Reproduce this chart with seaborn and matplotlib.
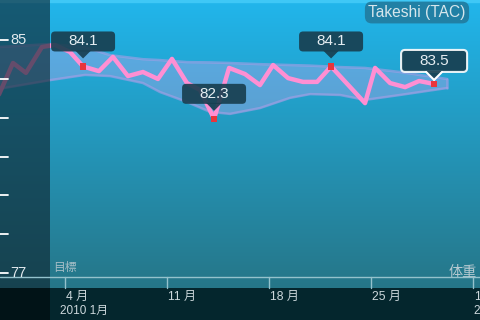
import numpy as np
import pandas as pd
import seaborn as sns
import matplotlib
matplotlib.use("Agg")
import matplotlib.pyplot as plt
from matplotlib.patches import FancyBboxPatch, Polygon, Rectangle
from matplotlib.transforms import IdentityTransform, blended_transform_factory

# ---------------- data ----------------
days = [-0.67, 0.43, 1.32, 2.42, 3.31, 4.34, 5.24, 6.33, 7.29, 8.32, 9.35, 10.38,
        11.34, 12.37, 13.27, 14.23, 15.26, 16.35, 17.38, 18.28, 19.31, 20.33,
        21.30, 22.26, 24.59, 25.28, 26.31, 27.34, 28.30, 29.33]
weights = [82.98, 84.22, 83.88, 84.77, 84.84, 84.60, 84.10, 83.94, 84.43, 83.77,
           83.91, 83.67, 84.36, 83.53, 83.29, 82.30, 84.05, 83.84, 83.46, 84.15,
           83.70, 83.57, 83.57, 84.10, 82.84, 84.05, 83.53, 83.39, 83.60, 83.50]
highlight_idx = [6, 15, 23, 29]

band_days = [-0.9, 2.97, 5.37, 7.09, 9.35, 10.52, 12.37, 13.95, 15.32, 17.38,
             19.44, 20.82, 22.88, 24.59, 26.99, 30.22]
band_upper = [84.76, 84.87, 84.77, 84.49, 84.35, 84.32, 84.25, 84.24, 84.22, 84.18,
              84.15, 84.13, 84.08, 84.05, 83.91, 83.67]
band_lower = [83.30, 83.63, 83.81, 83.77, 83.53, 83.22, 82.88, 82.54, 82.47, 82.67,
              83.02, 83.15, 83.12, 82.95, 83.12, 83.36]

xtick_days = [4, 11, 18, 25, 32]
xtick_labels = ["4 月", "11 月", "18 月", "25 月", "1"]
ytick_values = list(np.linspace(77, 85, 7))
ytick_labels = {85: "85", 77: "77"}

title = "Takeshi (TAC)"
goal_label = "目標"
series_label = "体重"
year_month = "2010 1月"
next_year_month = "2"

df = pd.DataFrame({"day": days, "weight": weights})
hl = df.iloc[highlight_idx]

# ---------------- figure ----------------
sns.set_theme(style="white")
plt.rcParams["font.family"] = ["Liberation Sans", "Noto Sans CJK JP", "DejaVu Sans"]

W, H = 480, 320
fig = plt.figure(figsize=(4.8, 3.2), dpi=100)
ax = fig.add_axes([0, 0, 1, 1])
ax.set_axis_off()
XL = (-0.461, 32.48)
YL = (75.385, 86.385)

# background gradient (plot area)
n = 256
top = np.array([33, 182, 236]) / 255
bot = np.array([38, 118, 136]) / 255
t = np.linspace(0, 1, n)[:, None]
grad = (top[None, :] * (1 - t) + bot[None, :] * t)[:, None, :]
ax.imshow(grad, extent=[0, 1, 32 / H, 1], transform=ax.transAxes,
          aspect="auto", zorder=0, interpolation="bilinear")
ax.add_patch(Rectangle((0, 1 - 2 / H), 1, 2 / H, transform=ax.transAxes,
                       color="#3fc8f6", zorder=1))

# band
ax.fill_between(band_days, band_lower, band_upper, color="#c9a9ee", alpha=0.34,
                lw=0, zorder=2)
ax.plot(band_days, band_upper, color="#a99ee6", alpha=0.6, lw=1.8, zorder=2.5)
ax.plot(band_days, band_lower, color="#a99ee6", alpha=0.6, lw=1.8, zorder=2.5)
ax.plot([band_days[-1]] * 2, [band_lower[-1], band_upper[-1]], color="#a99ee6",
        alpha=0.6, lw=1.8, zorder=2.5)

# weight line
sns.lineplot(data=df, x="day", y="weight", color="#ff8fd3", lw=3.2, ax=ax,
             zorder=3, legend=False)
sns.scatterplot(data=hl, x="day", y="weight", color="#e8353c", marker="s", s=22,
                edgecolor="none", ax=ax, zorder=3.5, legend=False)

# left dark panel
ax.add_patch(Rectangle((0, 32 / H), 50 / W, 1 - 32 / H, transform=ax.transAxes,
                       color=(15 / 255, 38 / 255, 48 / 255), alpha=0.64, lw=0, zorder=4))
# bottom band
ax.add_patch(Rectangle((0, 0), 1, 32 / H, transform=ax.transAxes,
                       color="#04262d", lw=0, zorder=5))
ax.add_patch(Rectangle((0, 0), 50 / W, 32 / H, transform=ax.transAxes,
                       color="#011317", lw=0, zorder=5.1))

# x axis line + ticks
ax.plot([0, 1], [1 - 277 / H] * 2, transform=ax.transAxes, color="#94c2cc",
        lw=1, zorder=6)
bx = blended_transform_factory(ax.transData, ax.transAxes)
for d, lab in zip(xtick_days, xtick_labels):
    ax.plot([d, d], [1 - 277 / H, 1 - 288 / H], transform=bx, color="#94c2cc",
            lw=1, zorder=6)
    ax.text(d + 0.05, 1 - 297 / H, lab, transform=bx, ha="left", va="center",
            fontsize=8.7, color="#cdd8dc", zorder=7)
ax.text(60 / W, 1 - 311 / H, year_month, transform=ax.transAxes, ha="left",
        va="center", fontsize=8.5, color="#cdd8dc", zorder=7)
ax.text(473 / W, 1 - 311 / H, next_year_month, transform=ax.transAxes, ha="left",
        va="center", fontsize=8.5, color="#cdd8dc", zorder=7)

# y ticks
by = blended_transform_factory(ax.transAxes, ax.transData)
for v in ytick_values:
    ax.plot([0, 8 / W], [v, v], transform=by, color="white", lw=1.3, zorder=6)
    key = int(round(v))
    if abs(v - key) < 1e-6 and key in ytick_labels:
        ax.text(10 / W, v, ytick_labels[key], transform=by, ha="left", va="center",
                fontsize=10.5, color="#e2eaee", zorder=7)

ax.text(53 / W, 1 - 268 / H, goal_label, transform=ax.transAxes, ha="left",
        va="center", fontsize=8.5, color="#a3bdc6", zorder=7)
ax.text(477 / W, 1 - 272 / H, series_label, transform=ax.transAxes, ha="right",
        va="center", fontsize=10.2, color="#b7cad1", zorder=7)

ax.text(417 / W, 1 - 12.5 / H, title, transform=ax.transAxes, ha="center",
        va="center", fontsize=11.2, color="#d6e6ec", zorder=7,
        bbox=dict(boxstyle="round,pad=0.22,rounding_size=0.45", fc="#2180a5",
                  ec="none"))

ax.set_xlim(*XL)
ax.set_ylim(*YL)

# tooltips
idt = IdentityTransform()


def tooltip(d, v, text, w=64, h=20, gap=15, tip=8, edge=None):
    X, Y = ax.transData.transform((d, v))
    bx0, by0 = X - w / 2, Y + gap
    fc = "#173d4e"
    box = FancyBboxPatch((bx0, by0), w, h, boxstyle="round,pad=0,rounding_size=4",
                         transform=idt, fc=fc, ec=edge if edge else "none",
                         lw=1.5 if edge else 0, alpha=0.9, zorder=8)
    fig.add_artist(box)
    tri = Polygon([(X - 8, by0 + 1.0), (X + 8, by0 + 1.0), (X, Y + tip)],
                  closed=True, transform=idt, fc=fc, ec="none", alpha=0.9, zorder=8)
    fig.add_artist(tri)
    if edge:
        for sx in (-8, 8):
            ln = plt.Line2D([X + sx, X], [by0, Y + tip], transform=idt, color=edge,
                            lw=1.5, zorder=9)
            fig.add_artist(ln)
    fig.text(X, by0 + h / 2, text, transform=idt, ha="center", va="center",
             fontsize=11, color="#e6eef2", zorder=10)


for i, (_, r) in enumerate(hl.iterrows()):
    lab = f"{r['weight']:.1f}"
    if i == len(hl) - 1:
        tooltip(r["day"], r["weight"], lab, w=66, h=22, gap=12, tip=4, edge="white")
    else:
        tooltip(r["day"], r["weight"], lab)

fig.savefig("out.png", dpi=100)
